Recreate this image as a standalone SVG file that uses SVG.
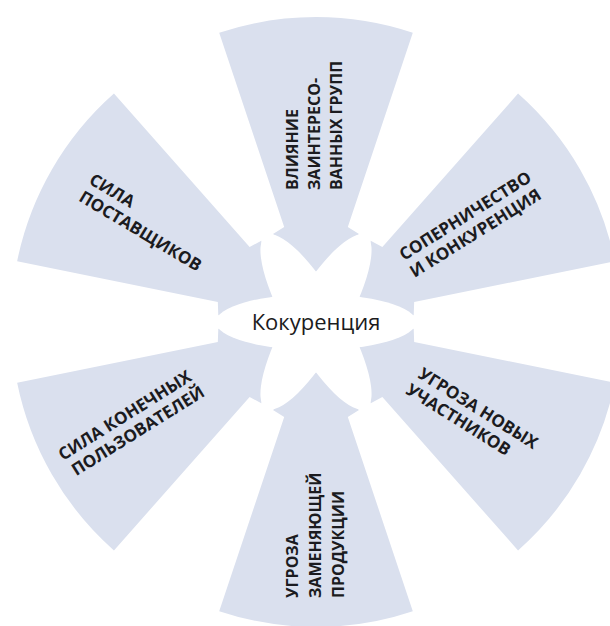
<svg xmlns="http://www.w3.org/2000/svg" width="610" height="626" viewBox="0 0 610 626">
  <defs>
    <style>
      .wedge { fill: #dae0ee; }
      .petal { fill: #ffffff; }
      .lbl { font-family: "Open Sans", "Liberation Sans", sans-serif; font-weight: bold; font-size: 17px; fill: #1b1b20; }
      .vert { font-size: 16px; }
      .hub { font-family: "Open Sans", "Liberation Sans", sans-serif; font-size: 22px; fill: #1b1b20; }
    </style>
    <!-- one converging arrow, pointing down toward the hub at the origin -->
    <path id="arrow" d="M -96.8,-289.2 A 305 305 0 0 1 96.8,-289.2 L 31.8,-95 L 43,-88 L 0,-50 L -43,-88 L -31.8,-95 Z"/>
  </defs>
  <rect width="610" height="626" fill="#ffffff"/>

  <!-- arrows toward the hub -->
  <g id="connectors" transform="translate(316,322)">
    <use href="#arrow" class="wedge" transform="rotate(0)"/>
    <use href="#arrow" class="wedge" transform="rotate(60)"/>
    <use href="#arrow" class="wedge" transform="rotate(120)"/>
    <use href="#arrow" class="wedge" transform="rotate(180)"/>
    <use href="#arrow" class="wedge" transform="rotate(240)"/>
    <use href="#arrow" class="wedge" transform="rotate(300)"/>
  </g>

  <!-- central hub -->
  <g id="hub">
    <g transform="translate(316,322)">
      <ellipse class="petal" rx="100" ry="28" transform="rotate(60)"/>
      <ellipse class="petal" rx="100" ry="28" transform="rotate(120)"/>
      <ellipse class="petal" rx="100" ry="28"/>
    </g>
    <text class="hub" x="316" y="330" text-anchor="middle">Кокуренция</text>
  </g>

  <g id="n-top">
    <text class="lbl vert" transform="translate(0,190) rotate(-90)">
      <tspan x="0" y="298">ВЛИЯНИЕ</tspan>
      <tspan x="0" y="320">ЗАИНТЕРЕСО-</tspan>
      <tspan x="0" y="342">ВАННЫХ ГРУПП</tspan>
    </text>
  </g>

  <g id="n-upper-right">
    <text class="lbl" transform="translate(404,261) rotate(-32)">
      <tspan x="0" y="0">СОПЕРНИЧЕСТВО</tspan>
      <tspan x="0" y="20">И КОНКУРЕНЦИЯ</tspan>
    </text>
  </g>

  <g id="n-lower-right">
    <text class="lbl" transform="translate(417,377) rotate(32)">
      <tspan x="0" y="0">УГРОЗА НОВЫХ</tspan>
      <tspan x="-2" y="20">УЧАСТНИКОВ</tspan>
    </text>
  </g>

  <g id="n-bottom">
    <text class="lbl vert" transform="translate(0,598) rotate(-90)">
      <tspan x="0" y="298">УГРОЗА</tspan>
      <tspan x="0" y="321">ЗАМЕНЯЮЩЕЙ</tspan>
      <tspan x="0" y="344">ПРОДУКЦИИ</tspan>
    </text>
  </g>

  <g id="n-lower-left">
    <text class="lbl" transform="translate(63,461) rotate(-32)">
      <tspan x="0" y="0">СИЛА КОНЕЧНЫХ</tspan>
      <tspan x="3" y="20">ПОЛЬЗОВАТЕЛЕЙ</tspan>
    </text>
  </g>

  <g id="n-upper-left">
    <text class="lbl" transform="translate(88,183) rotate(31)">
      <tspan x="0" y="0">СИЛА</tspan>
      <tspan x="0" y="20">ПОСТАВЩИКОВ</tspan>
    </text>
  </g>
</svg>
